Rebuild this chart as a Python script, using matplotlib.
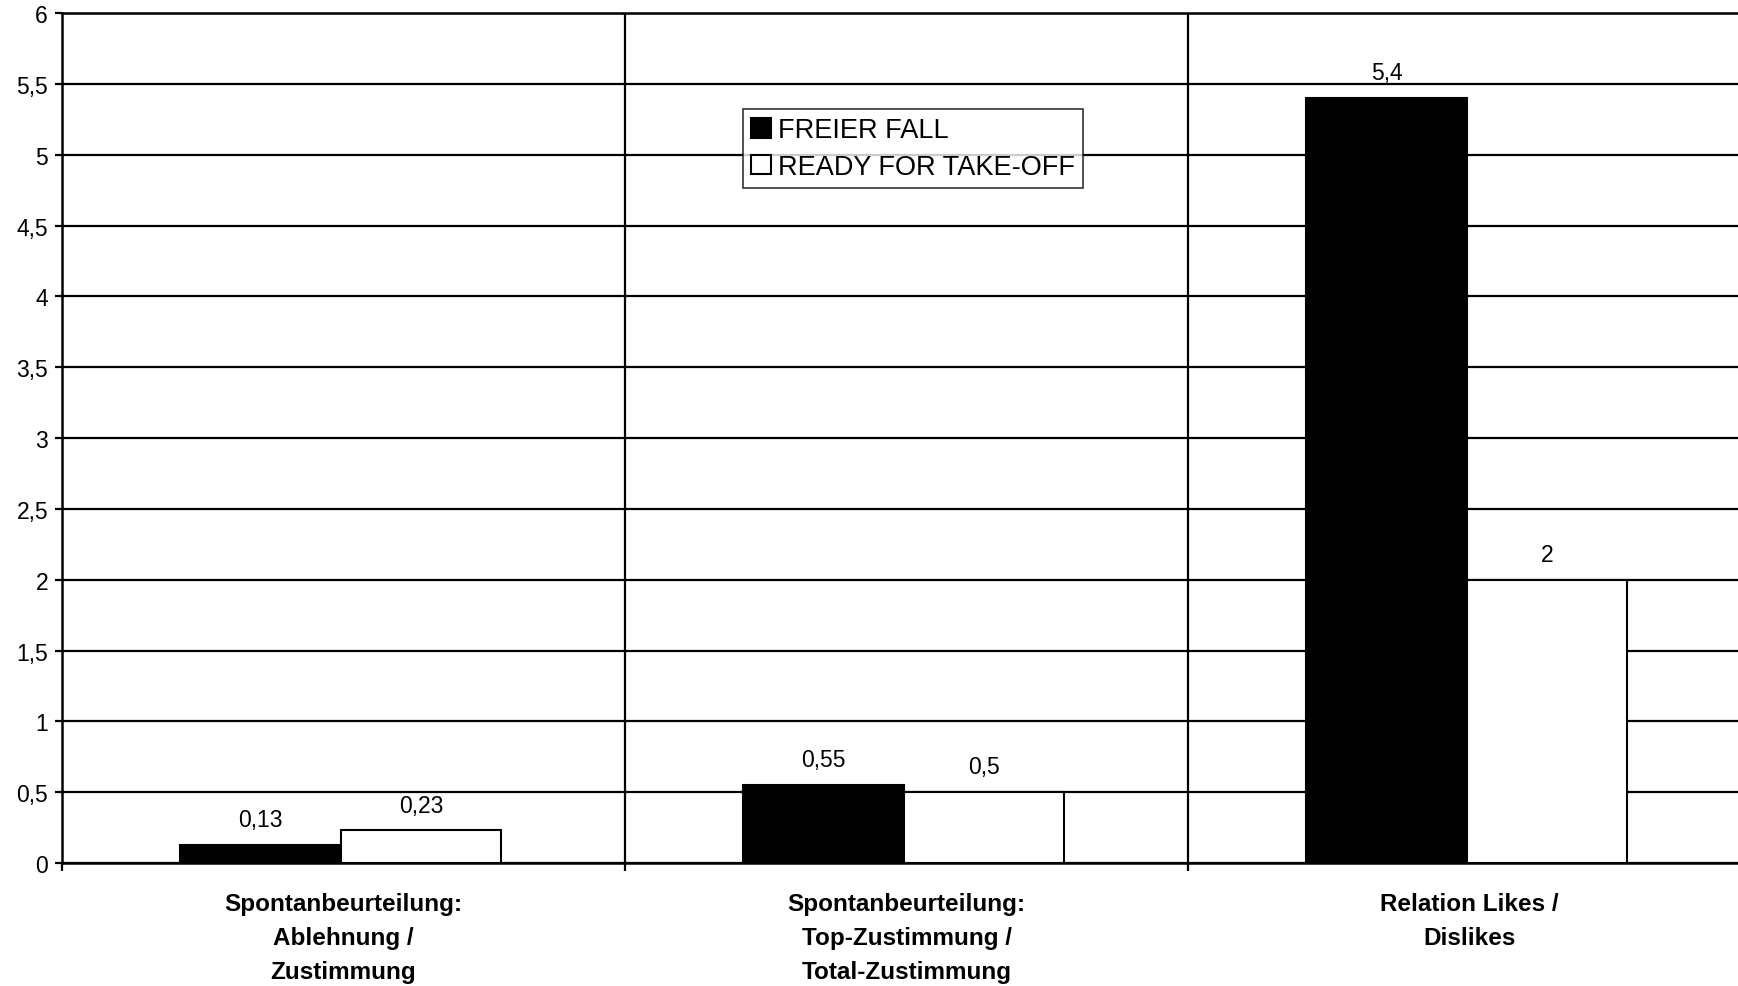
import numpy as np
import matplotlib
matplotlib.use("Agg")
import matplotlib.pyplot as plt

plt.rcParams['font.family'] = ['Liberation Sans', 'DejaVu Sans']

categories = [
    "Spontanbeurteilung:\nAblehnung /\nZustimmung",
    "Spontanbeurteilung:\nTop-Zustimmung /\nTotal-Zustimmung",
    "Relation Likes /\nDislikes",
]
freier_fall = [0.13, 0.55, 5.4]
ready_take_off = [0.23, 0.5, 2]
series_names = ["FREIER FALL", "READY FOR TAKE-OFF"]
y_ticks = [0, 0.5, 1, 1.5, 2, 2.5, 3, 3.5, 4, 4.5, 5, 5.5, 6]


def de_fmt(v):
    s = ("%g" % v).replace(".", ",")
    return s


fig = plt.figure(figsize=(17.38, 9.87), dpi=100)
ax = fig.add_axes([62 / 1738, 1 - 864 / 987, 1689 / 1738, 850 / 987])

x = np.arange(len(categories))
w = 0.285
b1 = ax.bar(x - w / 2 - 0.005, freier_fall, w, color="black", edgecolor="black",
            linewidth=1.5, label=series_names[0], zorder=3)
b2 = ax.bar(x + w / 2 - 0.005, ready_take_off, w, color="white", edgecolor="black",
            linewidth=1.5, label=series_names[1], zorder=3)

for bars in (b1, b2):
    for rect in bars:
        h = rect.get_height()
        ax.annotate(de_fmt(h), (rect.get_x() + rect.get_width() / 2, h),
                    xytext=(0, 10), textcoords="offset points",
                    ha="center", va="bottom", fontsize=16.5)

ax.set_xlim(-0.5, 2.5)
ax.set_ylim(0, 6)
ax.set_yticks(y_ticks)
ax.set_yticklabels([de_fmt(t) for t in y_ticks], fontsize=16.5)
ax.yaxis.grid(True, color="black", linewidth=1.6, zorder=1)

ax.set_xticks(x)
ax.set_xticklabels(categories, fontsize=17.5, fontweight="bold", linespacing=1.6)
ax.set_xticks([-0.5, 0.5, 1.5], minor=True)
ax.tick_params(axis="x", which="major", length=0, pad=21)
ax.tick_params(axis="x", which="minor", length=6, width=1.6, direction="out")
ax.tick_params(axis="y", length=5, width=1.6, pad=5)
for xv in [0.5, 1.5]:
    ax.axvline(xv, color="black", linewidth=1.6, zorder=1)

for side in ["left", "bottom", "top"]:
    ax.spines[side].set_linewidth(1.8)
ax.spines["right"].set_visible(False)

leg = ax.legend(loc="upper left", bbox_to_anchor=(743 / 1738, 1 - 110 / 987),
                bbox_transform=fig.transFigure, borderaxespad=0,
                fontsize=19.5, frameon=True, fancybox=False, shadow=False,
                handlelength=0.75, handleheight=0.75, handletextpad=0.25,
                borderpad=0.3, labelspacing=0.4)
leg.get_frame().set_edgecolor("black")
leg.get_frame().set_linewidth(1.2)

fig.savefig("out.png", dpi=100)
